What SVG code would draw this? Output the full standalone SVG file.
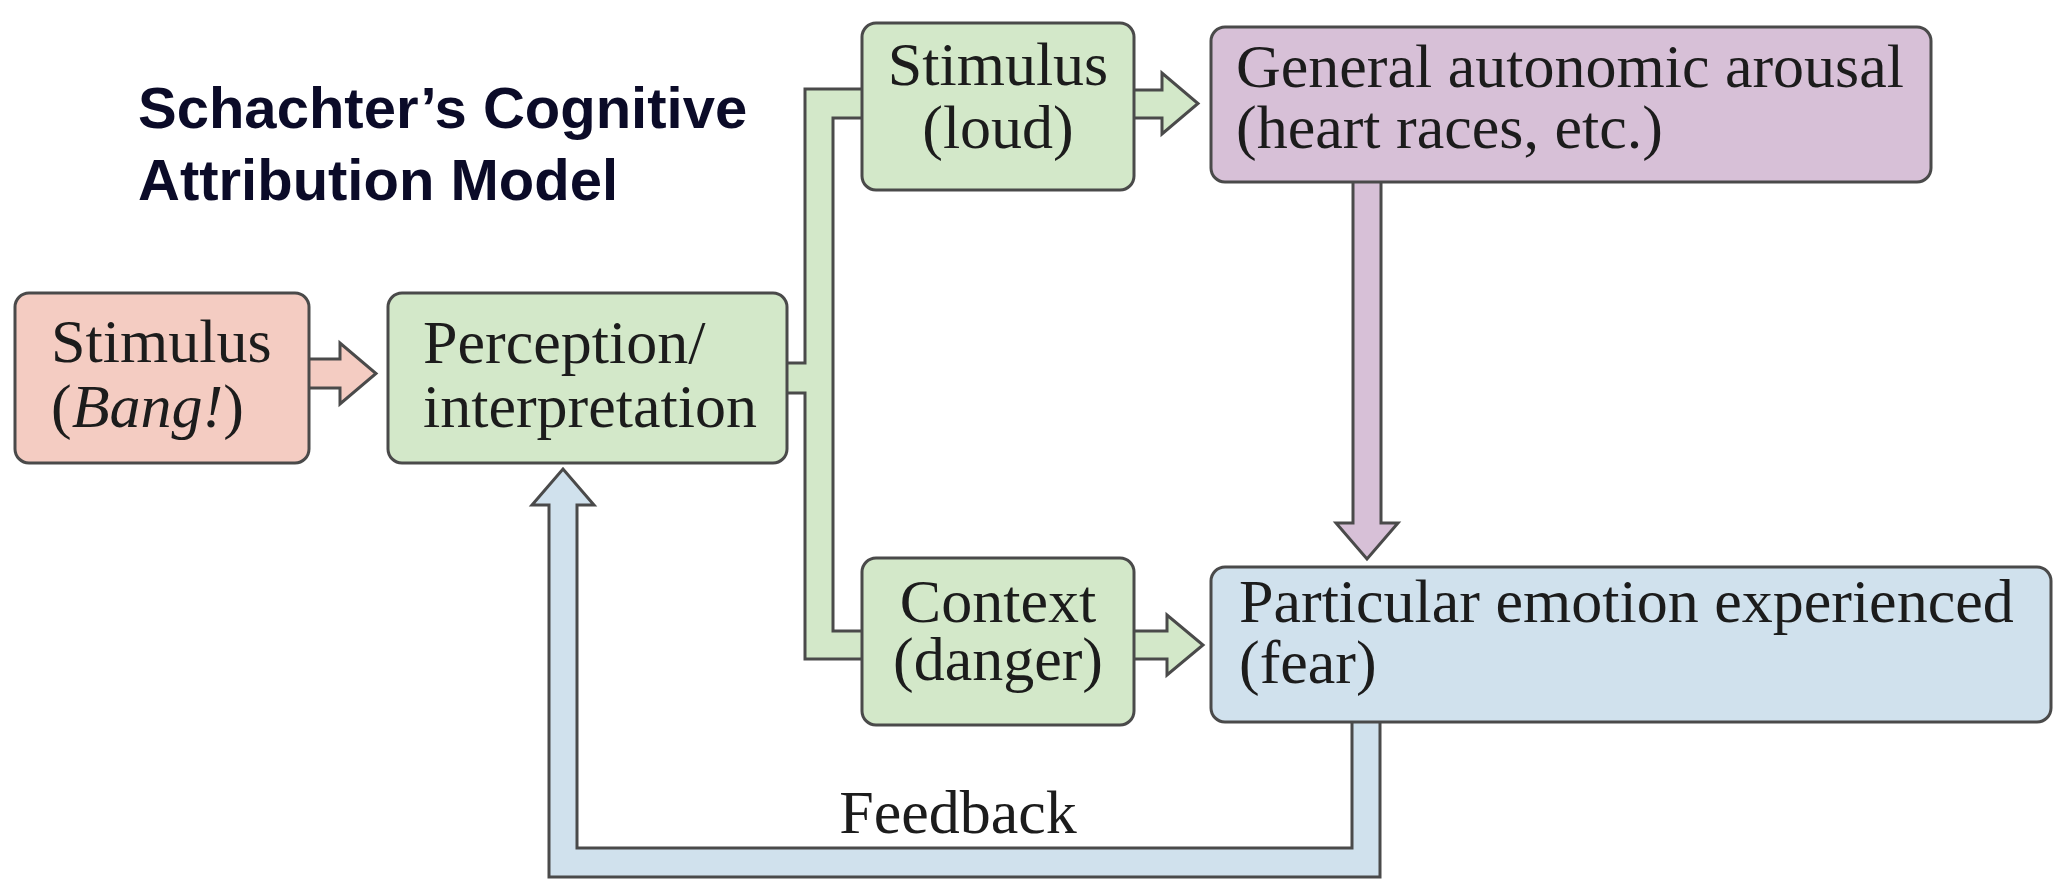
<svg xmlns="http://www.w3.org/2000/svg" width="2062" height="892" viewBox="0 0 2062 892">
<style>
.box{stroke:#4a4a4a;stroke-width:3;}
.conn{stroke:#4a4a4a;stroke-width:3;stroke-linejoin:miter;}
.pink{fill:#f4ccc2;}
.green{fill:#d3e8c9;}
.purple{fill:#d7c0d7;}
.blue{fill:#d0e1ed;}
.lbl{font-family:"Liberation Serif","Times New Roman",serif;font-size:62px;fill:#1c1c1c;}
.mid{text-anchor:middle;}
.title{font-family:"Liberation Sans",Arial,sans-serif;font-weight:bold;font-size:58px;fill:#0b0b28;}
</style>
<rect width="2062" height="892" fill="#ffffff"/>
<g id="title">
<text class="title" x="138" y="128">Schachter’s Cognitive</text>
<text class="title" x="138" y="200">Attribution Model</text>
</g>
<g id="connectors">
<polygon class="conn green" points="880,89 805,89 805,363 780,363 780,393 805,393 805,659 880,659 880,631 833,631 833,118 880,118"/>
<polygon class="conn pink" points="300,359 340,359 340,343 376,373.5 340,404 340,388 300,388"/>
<polygon class="conn green" points="1120,90 1162,90 1162,73 1198,103.5 1162,134 1162,118 1120,118"/>
<polygon class="conn green" points="1120,631 1167,631 1167,615 1203,645 1167,675 1167,659 1120,659"/>
<polygon class="conn purple" points="1353,170 1353,523 1336,523 1367,559 1398,523 1381,523 1381,170"/>
<polygon class="conn blue" points="1352,710 1352,848 577,848 577,505 594,505 563,469 532,505 549,505 549,877 1380,877 1380,710"/>
</g>
<g id="stimulus-bang">
<rect class="box pink" x="15" y="293" width="294" height="170" rx="14"/>
<text class="lbl" x="51" y="362">Stimulus</text>
<text class="lbl" x="51" y="427">(<tspan font-style="italic">Bang!</tspan>)</text>
</g>
<g id="perception">
<rect class="box green" x="388" y="293" width="399" height="170" rx="14"/>
<text class="lbl" x="423" y="363">Perception/</text>
<text class="lbl" x="423" y="427">interpretation</text>
</g>
<g id="stimulus-loud">
<rect class="box green" x="862" y="23" width="272" height="167" rx="14"/>
<text class="lbl mid" x="998" y="85">Stimulus</text>
<text class="lbl mid" x="998" y="148">(loud)</text>
</g>
<g id="context">
<rect class="box green" x="862" y="558" width="272" height="167" rx="14"/>
<text class="lbl mid" x="998" y="622">Context</text>
<text class="lbl mid" x="998" y="680">(danger)</text>
</g>
<g id="arousal">
<rect class="box purple" x="1211" y="27" width="720" height="155" rx="14"/>
<text class="lbl" x="1236" y="87">General autonomic arousal</text>
<text class="lbl" x="1236" y="148">(heart races, etc.)</text>
</g>
<g id="emotion">
<rect class="box blue" x="1211" y="567" width="840" height="155" rx="14"/>
<text class="lbl" x="1239" y="622">Particular emotion experienced</text>
<text class="lbl" x="1239" y="683">(fear)</text>
</g>
<g id="feedback-label">
<text class="lbl mid" x="958" y="833">Feedback</text>
</g>
</svg>
